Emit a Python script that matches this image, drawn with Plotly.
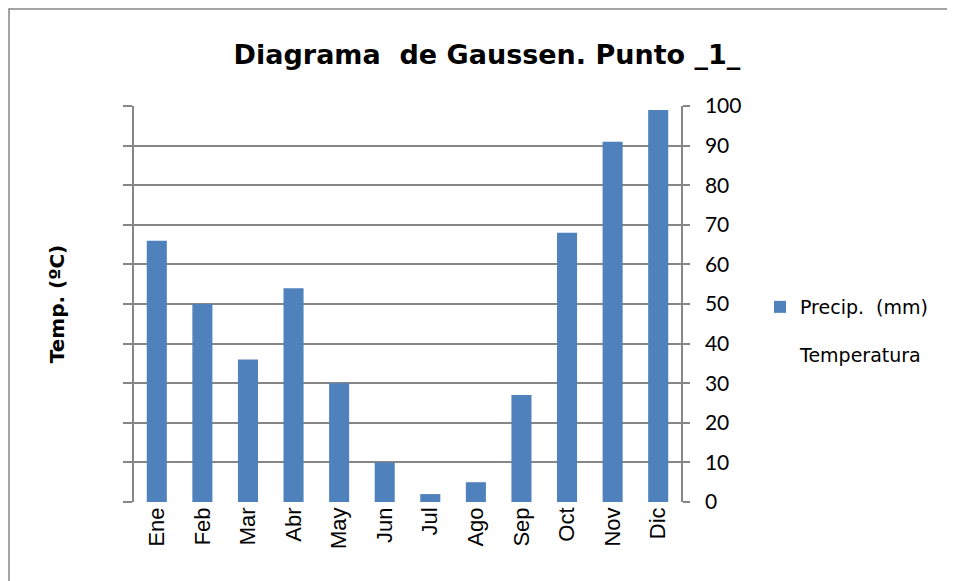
import plotly.graph_objects as go

months = ["Ene", "Feb", "Mar", "Abr", "May", "Jun", "Jul", "Ago", "Sep", "Oct", "Nov", "Dic"]
precip = [66, 50, 36, 54, 30, 10, 2, 5, 27, 68, 91, 99]
temperatura = [None] * 12
y_ticks = [0, 10, 20, 30, 40, 50, 60, 70, 80, 90, 100]

# page body has an 8px margin; work in figure coordinates
OFF = 8
W, H = 955 - OFF, 581 - OFF
L, R, T, B = 134 - OFF, 681 - OFF, 106 - OFF, 502 - OFF

GRID = "#868686"
CAL = "Lato, Carlito, Calibri, sans-serif"
WIDE = "DejaVu Sans, Verdana, sans-serif"

fig = go.Figure()
fig.add_trace(go.Bar(
    x=months, y=precip, name="Precip.  (mm)", yaxis="y2",
    marker=dict(color="#4F81BD", line=dict(width=0)),
    legendgroup="a",
))
fig.add_trace(go.Scatter(
    x=months, y=temperatura, name="Temperatura", yaxis="y",
    mode="lines", line=dict(color="rgba(0,0,0,0)", width=2),
    legendgroup="b",
))

def px2paper_x(px):
    return (px - OFF - L) / (R - L)

def px2paper_y(py):
    return (B - (py - OFF)) / (B - T)

fig.update_layout(
    width=W, height=H,
    margin=dict(l=L, r=W - R, t=T, b=H - B, pad=0),
    paper_bgcolor="white", plot_bgcolor="white",
    bargap=0.56,
    title=dict(text="<b>Diagrama  de Gaussen. Punto _1_</b>", x=(487 - OFF) / W, xanchor="center",
               y=1 - (55 - OFF) / H, yanchor="middle",
               font=dict(family=WIDE, size=27, color="black")),
    xaxis=dict(
        tickangle=-90, showgrid=False, showline=False, ticks="",
        tickfont=dict(family="Liberation Sans, Arial, sans-serif", size=22, color="black"),
        range=[-0.5, 11.5],
    ),
    yaxis=dict(
        range=[0, 100], tickvals=y_ticks, showticklabels=False,
        ticks="outside", ticklen=9, tickcolor=GRID, tickwidth=1.5,
        showgrid=True, gridcolor=GRID, gridwidth=1.5,
        showline=True, linecolor=GRID, linewidth=1.5,
        zeroline=False,
        title=dict(text="<b>Temp. (ºC)</b>", font=dict(family=WIDE, size=20, color="black"), standoff=53),
    ),
    yaxis2=dict(
        range=[0, 100], tickvals=y_ticks, overlaying="y", side="right",
        ticks="outside", ticklen=7, tickcolor=GRID, tickwidth=1.5,
        showgrid=False, showline=True, linecolor=GRID, linewidth=1.5,
        zeroline=False, ticklabelstandoff=11,
        tickfont=dict(family=CAL, size=21, color="black"),
    ),
    legend=dict(
        x=px2paper_x(760), y=px2paper_y(288), xanchor="left", yanchor="top",
        font=dict(family=WIDE, size=19, color="black"),
        traceorder="grouped", tracegroupgap=20, bgcolor="rgba(0,0,0,0)",
        itemwidth=30,
    ),
    showlegend=True,
    shapes=[dict(
        type="rect", xref="paper", yref="paper",
        x0=px2paper_x(OFF + 1), x1=px2paper_x(1000), y0=px2paper_y(700), y1=px2paper_y(OFF + 1),
        line=dict(color="#868686", width=1.5), fillcolor="rgba(0,0,0,0)", layer="below",
    )],
)

fig.write_html("out.html")
